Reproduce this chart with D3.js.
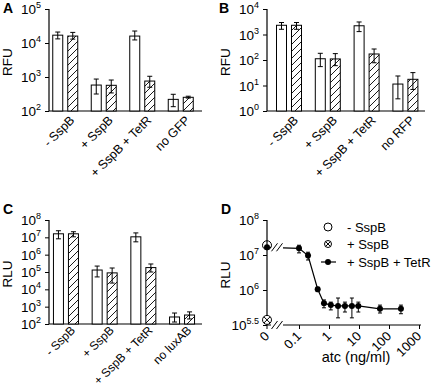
<!DOCTYPE html>
<html><head><meta charset="utf-8">
<script src="https://cdn.jsdelivr.net/npm/d3@7"></script>
<style>body{margin:0;background:#fff} text{font-family:"Liberation Sans",Arial,sans-serif;fill:#000}</style>
</head><body><svg id="c" width="432" height="390" xmlns="http://www.w3.org/2000/svg"></svg>
<script>
// ---------- DATA ----------
const categoriesA = ["- SspB", "+ SspB", "+ SspB + TetR", "no GFP"];
const categoriesB = ["- SspB", "+ SspB", "+ SspB + TetR", "no RFP"];
const categoriesC = ["- SspB", "+ SspB", "+ SspB + TetR", "no luxAB"];
const seriesKeys = ["open", "hatched"];

const A_open = [17000, 580, 16000, 220];
const A_openLo = [13200, 316, 12300, 134];
const A_openHi = [21000, 870, 22500, 310];
const A_hat = [16000, 570, 760, 253];
const A_hatLo = [13000, 340, 500, 240];
const A_hatHi = [20500, 815, 1050, 272];
const A_ticks = [2, 3, 4, 5];

const B_open = [2300, 112, 2200, 11.4];
const B_openLo = [1600, 55, 1300, 3];
const B_openHi = [2950, 183, 3100, 23.6];
const B_hat = [2300, 110, 172, 17.5];
const B_hatLo = [1600, 60, 78, 7];
const B_hatHi = [2950, 178, 270, 32];
const B_ticks = [0, 1, 2, 3, 4];

const C_open = [1.6e7, 1.3e5, 1.07e7, 254];
const C_openLo = [8.2e6, 5.2e4, 5.5e6, 130];
const C_openHi = [2.4e7, 2.2e5, 1.8e7, 430];
const C_hat = [1.6e7, 8.9e4, 1.8e5, 330];
const C_hatLo = [1.07e7, 2.3e4, 1.0e5, 195];
const C_hatHi = [2.1e7, 1.7e5, 2.9e5, 500];
const C_ticks = [2, 3, 4, 5, 6, 7, 8];

const D_atc = [0.1, 0.2, 0.42, 0.68, 1.15, 2.0, 3.4, 5.8, 9.5, 50, 250];
const D_tetR = [1.55e7, 9.6e6, 1.05e6, 4.2e5, 3.7e5, 3.5e5, 3.5e5, 3.5e5, 3.5e5, 2.9e5, 2.9e5];
const D_tetRLo = [1.15e7, 7.2e6, 0.9e6, 3.1e5, 2.7e5, 1.6e5, 2.35e5, 1.6e5, 2.35e5, 2.2e5, 2.1e5];
const D_tetRHi = [1.9e7, 1.2e7, 1.2e6, 5.2e5, 4.5e5, 5.9e5, 4.5e5, 5.9e5, 4.5e5, 3.7e5, 3.7e5];
const D_tetRZero = 1.66e7;
const D_minusSspBZero = 1.9e7;
const D_plusSspBZero = 1.4e5;
const D_yTicks = ["8", "7", "6", "5.5"];
const D_yTickVals = [1e8, 1e7, 1e6, 1e5];
const D_xTicks = [0.1, 1, 10, 100, 1000];
const D_xTickLabels = ["0.1", "1", "10", "100", "1000"];
const D_legend = ["- SspB", "+ SspB", "+ SspB + TetR"];

// ---------- DRAW ----------
const svg = d3.select("#c");
const defs = svg.append("defs");
const pat = defs.append("pattern").attr("id", "hatch").attr("patternUnits", "userSpaceOnUse")
  .attr("width", 7).attr("height", 7);
pat.append("rect").attr("width", 7).attr("height", 7).attr("fill", "#fff");
pat.append("path").attr("d", "M-1,1 l2,-2 M0,7 l7,-7 M6,8 l2,-2")
  .attr("stroke", "#000").attr("stroke-width", 0.9);

const FS = 13;

function yAxisLabels(g, y, vals, exps, axisX) {
  const t = g.selectAll("text.yt").data(vals).join("text").attr("class", "yt")
    .attr("x", axisX - 8).attr("y", d => y(d) + 5).attr("text-anchor", "end")
    .attr("font-size", 13.5);
  t.append("tspan").text("10");
  t.append("tspan").attr("dy", -6).attr("font-size", 9).text((d, i) => exps[i]);
}

function barPanel(o) {
  const g = svg.append("g");
  const y = d3.scaleLog().domain(o.yDomain).range(o.yRange);
  const x = d3.scaleBand().domain(o.cats).range(o.band);
  const sub = d3.scaleBand().domain(seriesKeys).range([-12.5, 12.5]).paddingInner(1 / 3);
  const base = o.yRange[0];

  const ya = d3.axisLeft(y).tickValues(o.ticks.map(e => Math.pow(10, e))).tickSize(4).tickFormat("");
  const yg = g.append("g").attr("transform", `translate(${o.axisX},0)`).call(ya);
  yg.select(".domain").remove();
  yg.selectAll("line").attr("stroke", "#000");
  g.append("line").attr("x1", o.axisX).attr("x2", o.axisX).attr("y1", o.yRange[1]).attr("y2", base)
    .attr("stroke", "#000").attr("stroke-width", 1.2);
  g.append("line").attr("x1", o.axisX).attr("x2", o.axisEnd).attr("y1", base).attr("y2", base)
    .attr("stroke", "#000").attr("stroke-width", 1.2);
  yAxisLabels(g, y, o.ticks.map(e => Math.pow(10, e)), o.ticks.map(String), o.axisX);

  const rows = [];
  o.cats.forEach((c, i) => {
    rows.push({ c, k: "open", v: o.open[i], lo: o.openLo[i], hi: o.openHi[i] });
    rows.push({ c, k: "hatched", v: o.hat[i], lo: o.hatLo[i], hi: o.hatHi[i] });
  });
  const cx = d => x(d.c) + x.bandwidth() / 2 + sub(d.k);
  g.selectAll("rect.bar").data(rows).join("rect").attr("class", "bar")
    .attr("x", d => cx(d)).attr("width", sub.bandwidth())
    .attr("y", d => y(d.v)).attr("height", d => base - y(d.v))
    .attr("fill", d => d.k === "open" ? "#fff" : "url(#hatch)")
    .attr("stroke", "#000").attr("stroke-width", 1);
  const mid = d => cx(d) + sub.bandwidth() / 2;
  g.selectAll("line.err").data(rows).join("line").attr("class", "err")
    .attr("x1", mid).attr("x2", mid).attr("y1", d => y(d.hi)).attr("y2", d => Math.min(base, y(d.lo)))
    .attr("stroke", "#000").attr("stroke-width", 1);
  g.selectAll("line.capH").data(rows).join("line").attr("class", "capH")
    .attr("x1", d => mid(d) - 2.5).attr("x2", d => mid(d) + 2.5).attr("y1", d => y(d.hi)).attr("y2", d => y(d.hi))
    .attr("stroke", "#000").attr("stroke-width", 1);
  g.selectAll("line.capL").data(rows.filter(d => y(d.lo) < base - 1)).join("line").attr("class", "capL")
    .attr("x1", d => mid(d) - 2.5).attr("x2", d => mid(d) + 2.5).attr("y1", d => y(d.lo)).attr("y2", d => y(d.lo))
    .attr("stroke", "#000").attr("stroke-width", 1);

  g.selectAll("text.cat").data(o.cats).join("text").attr("class", "cat")
    .attr("text-anchor", "end").attr("font-size", o.labFs)
    .attr("transform", c => `translate(${x(c) + x.bandwidth() / 2 + 10},${base + o.labDy}) rotate(-45)`)
    .text(c => c);

  g.append("text").attr("font-size", 13.5).attr("text-anchor", "middle")
    .attr("transform", `translate(${o.titleX},${(o.yRange[0] + o.yRange[1]) / 2 + 2}) rotate(-90)`).text(o.title);
  g.append("text").attr("font-size", 14).attr("font-weight", "bold").attr("x", o.letterX).attr("y", o.letterY).text(o.letter);
}

barPanel({ cats: categoriesA, open: A_open, openLo: A_openLo, openHi: A_openHi, hat: A_hat, hatLo: A_hatLo, hatHi: A_hatHi,
  yDomain: [1e2, 1e5], yRange: [111, 9], band: [46, 200], axisX: 49, axisEnd: 202, ticks: A_ticks, labDy: 10, labFs: 12.5,
  title: "RFU", titleX: 12, letter: "A", letterX: 3, letterY: 13 });
barPanel({ cats: categoriesB, open: B_open, openLo: B_openLo, openHi: B_openHi, hat: B_hat, hatLo: B_hatLo, hatHi: B_hatHi,
  yDomain: [1e0, 1e4], yRange: [111, 9], band: [269.6, 424.8], axisX: 267, axisEnd: 425, ticks: B_ticks, labDy: 10, labFs: 12.5,
  title: "RFU", titleX: 230, letter: "B", letterX: 219, letterY: 13 });
barPanel({ cats: categoriesC, open: C_open, openLo: C_openLo, openHi: C_openHi, hat: C_hat, hatLo: C_hatLo, hatHi: C_hatHi,
  yDomain: [1e2, 1e8], yRange: [324, 220], band: [46.6, 201.4], axisX: 49, axisEnd: 202, ticks: C_ticks, labDy: 7, labFs: 12,
  title: "RLU", titleX: 12, letter: "C", letterX: 3, letterY: 214 });

// ---------- Panel D ----------
(function () {
  const g = svg.append("g");
  const axisX = 267, base = 325;
  const y = d3.scaleLog().domain([1e5, 1e8]).range([325, 220]);
  const xl = d3.scaleLog().domain([0.1, 1000]).range([299, 419]);
  const x0 = axisX;

  g.append("line").attr("x1", axisX).attr("x2", axisX).attr("y1", 220).attr("y2", base).attr("stroke", "#000").attr("stroke-width", 1.2);
  g.append("line").attr("x1", axisX).attr("x2", 421).attr("y1", base).attr("y2", base).attr("stroke", "#000").attr("stroke-width", 1.2);
  const ya = d3.axisLeft(y).tickValues(D_yTickVals).tickSize(4).tickFormat("");
  const yg = g.append("g").attr("transform", `translate(${axisX},0)`).call(ya);
  yg.select(".domain").remove();
  yAxisLabels(g, y, D_yTickVals, D_yTicks, axisX);

  const xa = d3.axisBottom(xl).tickValues(D_xTicks).tickSize(4).tickFormat("");
  const xg = g.append("g").attr("transform", `translate(0,${base})`).call(xa);
  xg.select(".domain").remove();
  g.append("line").attr("x1", x0).attr("x2", x0).attr("y1", base).attr("y2", base + 4).attr("stroke", "#000");
  const xlabs = [{ x: x0, t: "0" }].concat(D_xTicks.map((v, i) => ({ x: xl(v), t: D_xTickLabels[i] })));
  g.selectAll("text.xt").data(xlabs).join("text").attr("class", "xt").attr("text-anchor", "end").attr("font-size", FS)
    .attr("transform", d => `translate(${d.x + 3},${base + 12}) rotate(-45)`).text(d => d.t);

  const bx = x0 + 10;
  const brk = (cx, cy) => {
    [-2.5, 2.5].forEach(dx => g.append("line").attr("x1", cx + dx - 3).attr("y1", cy + 4).attr("x2", cx + dx + 3).attr("y2", cy - 4)
      .attr("stroke", "#000").attr("stroke-width", 1));
  };
  g.append("rect").attr("x", bx - 6).attr("y", base - 3).attr("width", 12).attr("height", 6).attr("fill", "#fff");
  brk(bx, base);

  const pts = [{ x: x0, v: D_tetRZero }].concat(D_atc.map((a, i) => ({ x: xl(a), v: D_tetR[i] })));
  const line = d3.line().x(d => d.x).y(d => y(d.v));
  g.append("path").datum(pts).attr("d", line).attr("fill", "none").attr("stroke", "#000").attr("stroke-width", 1.2);
  g.append("rect").attr("x", bx - 6).attr("y", y(D_tetRZero) - 2).attr("width", 12).attr("height", 4).attr("fill", "#fff");
  brk(bx, y(D_tetRZero));

  const eb = D_atc.map((a, i) => ({ x: xl(a), lo: D_tetRLo[i], hi: D_tetRHi[i] }));
  g.selectAll("line.de").data(eb).join("line").attr("x1", d => d.x).attr("x2", d => d.x)
    .attr("y1", d => y(d.hi)).attr("y2", d => y(d.lo)).attr("stroke", "#000");
  ["hi", "lo"].forEach(k => g.selectAll("line.dc" + k).data(eb).join("line")
    .attr("x1", d => d.x - 2).attr("x2", d => d.x + 2).attr("y1", d => y(d[k])).attr("y2", d => y(d[k])).attr("stroke", "#000"));

  g.selectAll("circle.pt").data(pts).join("circle").attr("cx", d => d.x).attr("cy", d => y(d.v)).attr("r", 3).attr("fill", "#000");

  g.append("circle").attr("cx", x0).attr("cy", y(D_minusSspBZero)).attr("r", 4.5).attr("fill", "none").attr("stroke", "#000");
  const ox = (cx, cy, r) => {
    g.append("circle").attr("cx", cx).attr("cy", cy).attr("r", r).attr("fill", "#fff").attr("stroke", "#000");
    const k = r * 0.7;
    g.append("path").attr("d", `M${cx - k},${cy - k}L${cx + k},${cy + k}M${cx - k},${cy + k}L${cx + k},${cy - k}`).attr("stroke", "#000");
  };
  ox(x0, y(D_plusSspBZero), 4.5);

  const lx = 328, ly = [227, 244, 262];
  g.append("circle").attr("cx", lx).attr("cy", ly[0]).attr("r", 4).attr("fill", "none").attr("stroke", "#000");
  ox(lx, ly[1], 3.5);
  g.append("line").attr("x1", lx - 7).attr("x2", lx + 8).attr("y1", ly[2]).attr("y2", ly[2]).attr("stroke", "#000").attr("stroke-width", 1.2);
  g.append("circle").attr("cx", lx).attr("cy", ly[2]).attr("r", 3).attr("fill", "#000");
  g.selectAll("text.lg").data(D_legend).join("text").attr("x", 347).attr("y", (d, i) => ly[i] + 5).attr("font-size", FS).text(d => d);

  g.append("text").attr("x", 356).attr("y", 362).attr("text-anchor", "middle").attr("font-size", 14.5).text("atc (ng/ml)");
  g.append("text").attr("font-size", 13.5).attr("text-anchor", "middle")
    .attr("transform", `translate(230,275) rotate(-90)`).text("RLU");
  g.append("text").attr("font-size", 14).attr("font-weight", "bold").attr("x", 221).attr("y", 214).text("D");
})();
</script></body></html>
